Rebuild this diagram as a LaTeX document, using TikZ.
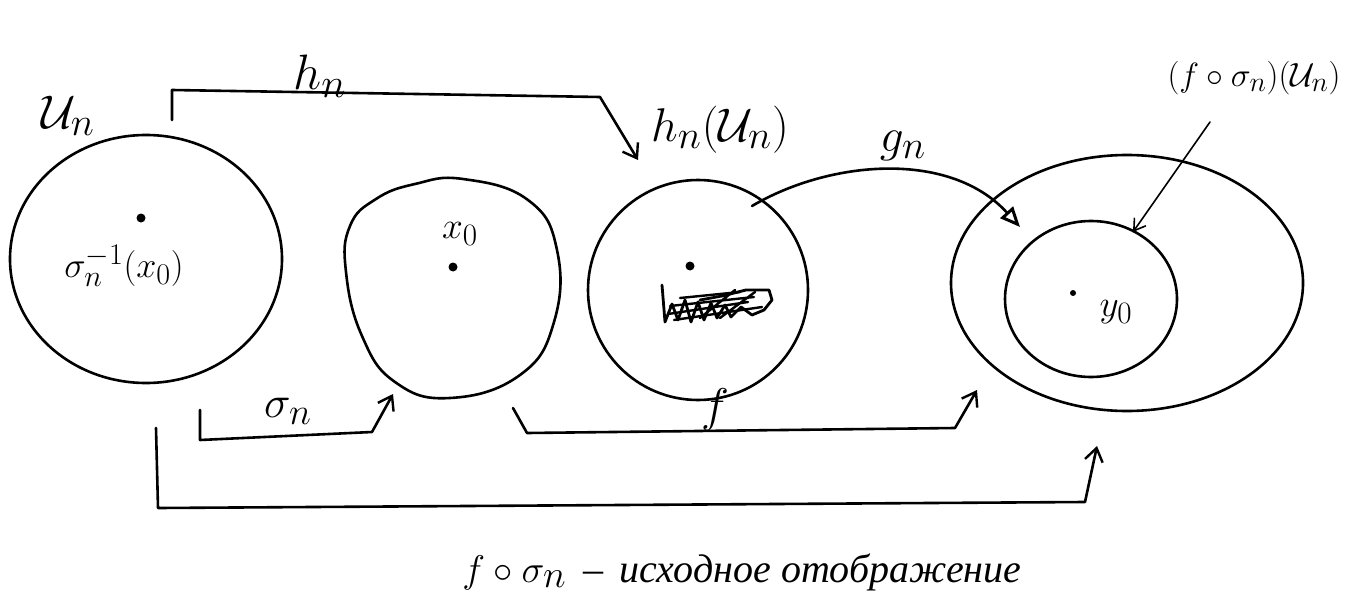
\documentclass[tikz,border=0pt]{standalone}
\usepackage{graphicx}
\usepackage{fontspec}
\setmainfont{Liberation Serif}
\usetikzlibrary{shapes.geometric,arrows.meta}

% math label enlarged beyond the largest design size
\newcommand\mlab[2]{\scalebox{#1}{$#2$}}

\begin{document}
\begin{tikzpicture}[x=1pt,y=-1pt,
  pen/.style={line width=2.6pt, line cap=round, line join=round},
  thinpen/.style={line width=1.6pt, line cap=round},
  region/.style={pen, draw, inner sep=0pt},
  pt/.style={circle, fill, inner sep=0pt, minimum size=9pt},
  lbl/.style={font=\fontsize{24.88}{28}\selectfont, inner sep=1pt},
  barb/.style={-{Straight Barb[length=13pt,width=18pt,line width=2.4pt]}},
  gtip/.style={-{Triangle[open,length=20pt,width=17pt,line width=3pt]}}
]
\useasboundingbox (0,0) rectangle (1356,607);

% ---- the four regions ----
\node[region, ellipse, minimum width=272pt, minimum height=248pt] (Un) at (146,259) {};
\coordinate (X) at (453,290);
\draw[pen] plot[smooth cycle, tension=0.75] coordinates {
  (463,179) (528,200) (557,250) (554,322) (520,375) (450,398)
  (395,382) (362,336) (346,272) (350,226) (376,199) (415,184)};
\node[region, circle, minimum size=220pt] (H) at (698,290) {};
\node[region, ellipse, minimum width=352pt, minimum height=256pt] (Y) at (1127,283) {};
\node[region, ellipse, minimum width=172pt, minimum height=156pt] (Yin) at (1091,299) {};

% ---- points and labels inside ----
\node[pt] (p1) at (141,218) {};
\node[lbl] (l1) at (124,266) {\mlab{1.45}{\sigma_n^{-1}(x_0)}};
\node[pt] (p2) at (453,267) {};
\node[lbl] (l2) at (460,234) {\mlab{1.5}{x_0}};
\node[pt] (p3) at (690,266) {};
\node[pt, minimum size=6pt] (p4) at (1073,293) {};
\node[lbl] (l4) at (1116,312) {\mlab{1.5}{y_0}};

% scribbled patch
\draw[pen, line width=2.8pt] (662,285) -- (665,322) -- (672,304) -- (678,320) -- (685,300)
  -- (691,322) -- (698,302) -- (704,320) -- (711,303) -- (717,318) -- (725,305)
  -- (731,317) -- (741,307) -- (752,315) -- (764,310) -- (772,300) -- (769,290)
  -- (746,290) -- (722,296) -- (700,300);
\draw[pen, line width=2.4pt] (668,314) -- (748,302) (670,306) -- (754,297)
  (674,320) -- (762,307) (680,298) -- (740,292) (700,318) -- (735,290) (720,318) -- (755,292);

% ---- outside labels ----
\node[lbl] (lU) at (68,116) {\mlab{1.9}{\mathcal{U}_n}};
\node[lbl] (lh) at (320,76) {\mlab{2}{h_n}};
\node[lbl] (lhU) at (720,130) {\mlab{1.9}{h_n(\mathcal{U}_n)}};
\node[lbl] (lg) at (903,146) {\mlab{1.9}{g_n}};
\node[lbl] (lfs) at (1254,78) {\mlab{1.35}{(f\circ\sigma_n)(\mathcal{U}_n)}};
\node[lbl] (ls) at (288,411) {\mlab{1.8}{\sigma_n}};
\node[lbl] (lf) at (715,410) {\mlab{1.9}{f}};
\node[lbl, font=\fontsize{40}{44}\selectfont\itshape] (cap) at (742,572)
  {\mlab{1.55}{f\circ\sigma_n} \,–\, исходное отображение};

% ---- bracket connectors ----
\coordinate (hA) at (172,120); \coordinate (hB) at (172,90);
\coordinate (hC) at (600,97);  \coordinate (hD) at (638,160);
\draw[pen, barb] (hA) -- (hB) -- (hC) -- (hD);

\coordinate (sA) at (200,410); \coordinate (sB) at (200,440);
\coordinate (sC) at (372,432); \coordinate (sD) at (393,394);
\draw[pen, barb] (sA) -- (sB) -- (sC) -- (sD);

\coordinate (fA) at (513,408); \coordinate (fB) at (527,433);
\coordinate (fC) at (955,428); \coordinate (fD) at (977,390);
\draw[pen, barb] (fA) -- (fB) -- (fC) -- (fD);

\coordinate (cA) at (156,428); \coordinate (cB) at (158,508);
\coordinate (cC) at (1085,502); \coordinate (cD) at (1097,446);
\draw[pen, barb] (cA) -- (cB) -- (cC) -- (cD);

% g_n: from inside h_n(U_n) into the target region
\coordinate (gA) at (752,206); \coordinate (gB) at (1020,227);
\draw[pen, gtip] (gA) .. controls (830,160) and (950,150) .. (gB);

% pointer to the inner region
\coordinate (pA) at (1210,122); \coordinate (pB) at (1133,232);
\draw[thinpen, -{Straight Barb[length=11pt,width=14pt,line width=1.6pt]}] (pA) -- (pB);

\end{tikzpicture}
\end{document}
